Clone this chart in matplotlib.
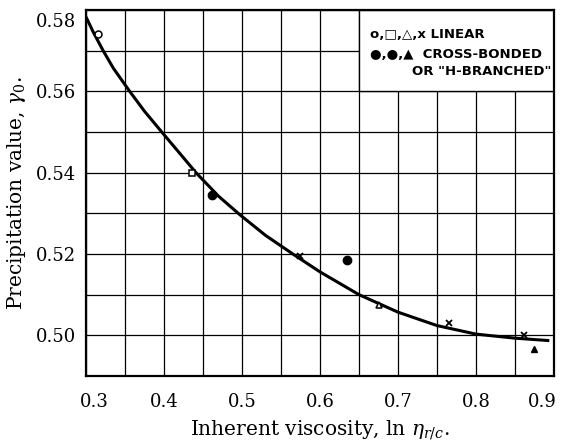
import numpy as np
import matplotlib
matplotlib.use("Agg")
import matplotlib.pyplot as plt
from matplotlib.patches import Rectangle
from matplotlib.transforms import ScaledTranslation

plt.rcParams['mathtext.fontset'] = 'dejavuserif'

# --- data ---
# smooth curve drawn through the points
curve_x = [0.300, 0.310, 0.322, 0.335, 0.356, 0.375, 0.398, 0.420, 0.441, 0.470,
           0.497, 0.530, 0.566, 0.600, 0.650, 0.700, 0.750, 0.800, 0.850, 0.894]
curve_y = [0.5783, 0.5743, 0.5700, 0.5657, 0.5600, 0.5551, 0.5498, 0.5448, 0.5400, 0.5342,
           0.5297, 0.5246, 0.5199, 0.5156, 0.5100, 0.5057, 0.5024, 0.5003, 0.4993, 0.4987]

# linear polymers (open symbols and x)
open_circle_x = [0.316]
open_circle_y = [0.5742]
open_square_x = [0.436]
open_square_y = [0.5400]
open_tri_x = [0.675]
open_tri_y = [0.5075]
cross_x = [0.574, 0.766, 0.861]
cross_y = [0.5196, 0.5030, 0.5002]

# cross-bonded / H-branched (filled symbols)
filled_circle_x = [0.461, 0.634]
filled_circle_y = [0.5344, 0.5185]
filled_tri_x = [0.875]
filled_tri_y = [0.4967]

x_ticks = [0.3, 0.4, 0.5, 0.6, 0.7, 0.8, 0.9]
y_ticks = [0.50, 0.52, 0.54, 0.56, 0.58]
x_grid = np.arange(0.30, 0.901, 0.05)
y_grid = np.arange(0.49, 0.5801, 0.01)

legend_lines = ["o,□,△,x LINEAR", "●,●,▲  CROSS-BONDED", 'OR "H-BRANCHED"']

# --- figure ---
fig = plt.figure(figsize=(5.61, 4.40), dpi=100)
ax = fig.add_axes([86 / 561, 1 - 376 / 440, 468 / 561, 366 / 440])

ax.set_xlim(0.3, 0.9)
ax.set_ylim(0.49, 0.58)
ax.set_xticks(x_grid, minor=True)
ax.set_yticks(y_grid, minor=True)
ax.set_xticks(x_ticks)
ax.set_xticklabels(["%.1f" % v for v in x_ticks])
ax.set_yticks(y_ticks)
ax.set_yticklabels(["%.2f" % v for v in y_ticks])
ax.grid(True, which='both', color='black', linewidth=0.9, zorder=0)
ax.set_axisbelow(True)
ax.tick_params(which='both', length=0)
ax.tick_params(axis='x', pad=12)
ax.tick_params(axis='y', pad=7)
for lab in ax.get_xticklabels() + ax.get_yticklabels():
    lab.set_fontfamily('DejaVu Serif')
    lab.set_fontsize(13)

# the old typeset labels sit a little off their grid lines
xl = ax.get_xticklabels()
xl[0].set_transform(xl[0].get_transform() + ScaledTranslation(8 / 100, 0, fig.dpi_scale_trans))
xl[-1].set_transform(xl[-1].get_transform() + ScaledTranslation(-12 / 100, 0, fig.dpi_scale_trans))
yl = ax.get_yticklabels()
yl[-1].set_transform(yl[-1].get_transform() + ScaledTranslation(0, -10 / 100, fig.dpi_scale_trans))

for sp in ax.spines.values():
    sp.set_linewidth(1.6)

# legend box (hides grid)
ax.add_patch(Rectangle((0.583, 0.778), 0.417, 0.222, transform=ax.transAxes,
                       facecolor='white', edgecolor='black', linewidth=1.0, zorder=1.5))
ax.text(0.607, 0.933, legend_lines[0], transform=ax.transAxes, fontsize=9.5, weight='bold',
        family='DejaVu Sans', va='center', ha='left', zorder=3)
ax.text(0.607, 0.878, legend_lines[1], transform=ax.transAxes, fontsize=9.5, weight='bold',
        family='DejaVu Sans', va='center', ha='left', zorder=3)
ax.text(0.995, 0.832, legend_lines[2], transform=ax.transAxes, fontsize=9.5, weight='bold',
        family='DejaVu Sans', va='center', ha='right', zorder=3)

ax.plot(curve_x, curve_y, color='black', linewidth=2.2, zorder=3,
        solid_capstyle='butt', solid_joinstyle='round')

ms = 5
ax.plot(open_circle_x, open_circle_y, 'o', mfc='white', mec='black', mew=1.1, ms=ms, zorder=4)
ax.plot(open_square_x, open_square_y, 's', mfc='white', mec='black', mew=1.1, ms=ms, zorder=4)
ax.plot(open_tri_x, open_tri_y, '^', mfc='white', mec='black', mew=1.1, ms=ms, zorder=4)
ax.plot(cross_x, cross_y, 'x', color='black', mew=1.3, ms=ms, zorder=4)
ax.plot(filled_circle_x, filled_circle_y, 'o', color='black', ms=ms + 1, zorder=4)
ax.plot(filled_tri_x, filled_tri_y, '^', color='black', ms=ms, zorder=4)

ax.set_xlabel(r"Inherent viscosity, ln $\eta_{r/c}$.", family='DejaVu Serif', fontsize=14.5, labelpad=5)
ax.set_ylabel(r"Precipitation value, $\gamma_0$.", family='DejaVu Serif', fontsize=14.5, labelpad=6)

fig.savefig("out.png", dpi=100)
